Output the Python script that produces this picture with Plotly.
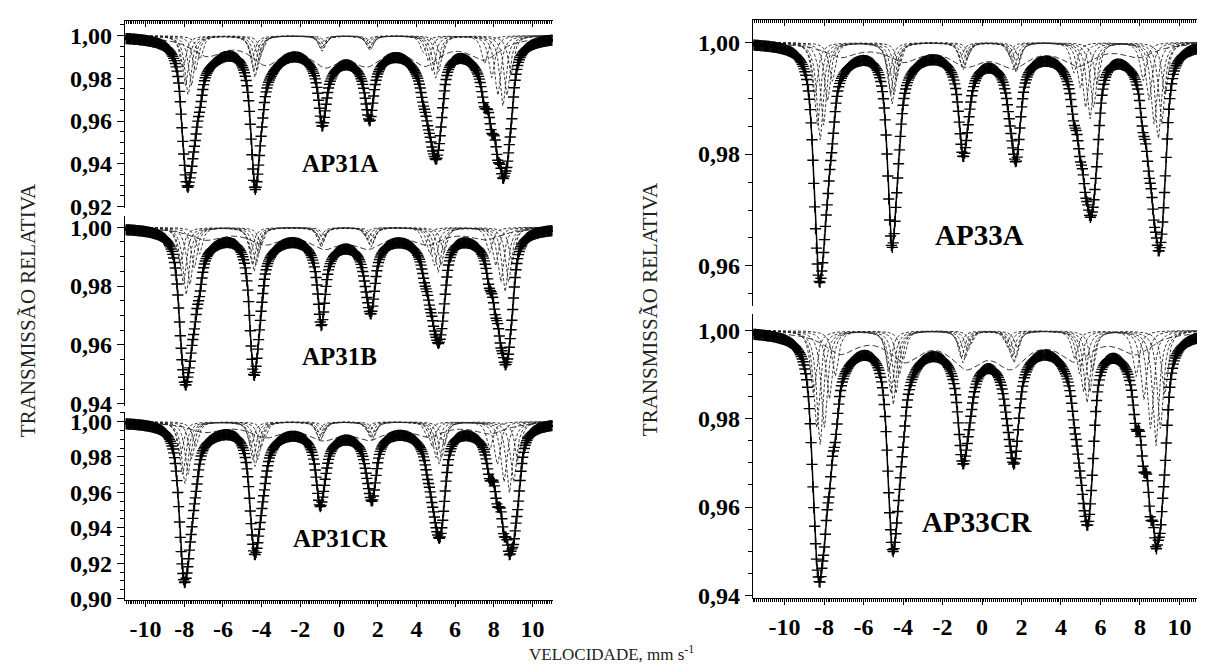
import numpy as np
import plotly.graph_objects as go

W, H = 1205, 669

# ---------------- data ----------------
PANEL_NAMES = ["AP31A", "AP31B", "AP31CR", "AP33A", "AP33CR"]

# observed line positions (mm/s), minimum transmission of each line, spread of subspectra
AP31A_LINES = [-7.80, -4.34, -0.88, 1.60, 5.00, 8.47]
AP31A_MIN = [0.929, 0.928, 0.9575, 0.960, 0.942, 0.933]
AP31A_SPREAD = [0.68, 0.38, 0.20, 0.23, 0.71, 1.05]

AP31B_LINES = [-7.90, -4.39, -0.93, 1.65, 5.12, 8.58]
AP31B_MIN = [0.9463, 0.9496, 0.9665, 0.9705, 0.9605, 0.9532]
AP31B_SPREAD = [0.76, 0.41, 0.19, 0.34, 0.76, 0.90]

AP31CR_LINES = [-7.96, -4.34, -0.98, 1.71, 5.17, 8.80]
AP31CR_MIN = [0.909, 0.9247, 0.952, 0.955, 0.934, 0.9247]
AP31CR_SPREAD = [0.62, 0.54, 0.30, 0.34, 0.65, 1.12]

AP33A_LINES = [-8.20, -4.56, -0.96, 1.72, 5.47, 8.93]
AP33A_MIN = [0.957, 0.9633, 0.9795, 0.9786, 0.9687, 0.9626]
AP33A_SPREAD = [0.68, 0.40, 0.34, 0.40, 0.90, 0.86]

AP33CR_LINES = [-8.20, -4.50, -0.96, 1.62, 5.32, 8.81]
AP33CR_MIN = [0.9429, 0.9499, 0.9697, 0.9697, 0.9558, 0.9505]
AP33CR_SPREAD = [0.85, 0.56, 0.45, 0.45, 0.70, 1.12]

# weight of the broad (long-dash) subspectrum in each panel and its relative line intensities
PANEL_BROAD = [1.0, 0.55, 0.5, 0.45, 0.6]
BROAD_REL = [0.3, 0.6, 1.6, 1.6, 0.6, 0.3]

# hyperfine-field distribution of the dashed subspectra
SUB_OFFSETS = [-0.4, -0.2, 0.0, 0.25, 0.55, 0.9]
SUB_WEIGHTS = [0.55, 0.85, 1.0, 0.85, 0.6, 0.4]
LINE_WIDTH_MM = 0.38
BROAD_SCALE, BROAD_WIDTH = 0.88, 2.0

X_TICKS = [-10, -8, -6, -4, -2, 0, 2, 4, 6, 8, 10]
X_TICK_TEXT = ["-10", "-8", "-6", "-4", "-2", "0", "2", "4", "6", "8", "10"]

N_CHANNELS = 512
DIRS = [1, 1, 1, -1, -1, -1]


def lor(v, p, g):
    return 1.0 / (1.0 + ((v - p) / (0.5 * g)) ** 2)


def sub_absorptions(v, lines, spread, R, bw):
    subs = []
    for o, w in zip(SUB_OFFSETS, SUB_WEIGHTS):
        a = np.zeros_like(v)
        for i in range(6):
            a += w * R[i] * lor(v, lines[i] + DIRS[i] * o * spread[i], LINE_WIDTH_MM)
        subs.append(a)
    c = float(np.mean(lines))
    a = np.zeros_like(v)
    for i in range(6):
        a += bw * BROAD_REL[i] * R[i] * lor(v, c + BROAD_SCALE * (lines[i] - c), BROAD_WIDTH)
    subs.append(a)
    return subs


def calibrate(lines, spread, target, bw):
    vf = np.linspace(-12, 12, 4801)
    R = np.full(6, 0.03)
    for _ in range(60):
        tot = 1 - sum(sub_absorptions(vf, lines, spread, R, bw))
        for i in range(6):
            m = np.abs(vf - lines[i]) < 0.8
            tmin = tot[m].min()
            R[i] *= (1 - target[i]) / (1 - tmin)
    return R


def px_dom(top, bottom):
    return [1 - bottom / H, 1 - top / H]


LEFT_DOM = [117 / W, 545 / W]
RIGHT_DOM = [745 / W, 1203 / W]
LEFT_RANGE = [-11.06, 11.06]
RIGHT_RANGE = [-11.6, 11.6]

panels = [
    dict(name="AP31A", lines=AP31A_LINES, mn=AP31A_MIN, sp=AP31A_SPREAD, xd=LEFT_DOM, xr=LEFT_RANGE,
         ch=(-11.0, 11.0), yd=px_dom(10, 202), yr=[0.9191, 1.0069], yt=[0.92, 0.94, 0.96, 0.98, 1.00],
         pos="top", lab=(0.05, 0.940), ls=25),
    dict(name="AP31B", lines=AP31B_LINES, mn=AP31B_MIN, sp=AP31B_SPREAD, xd=LEFT_DOM, xr=LEFT_RANGE,
         ch=(-11.0, 11.0), yd=px_dom(210, 404), yr=[0.9393, 1.0037], yt=[0.94, 0.96, 0.98, 1.00],
         pos="mid", lab=(0.05, 0.956), ls=25),
    dict(name="AP31CR", lines=AP31CR_LINES, mn=AP31CR_MIN, sp=AP31CR_SPREAD, xd=LEFT_DOM, xr=LEFT_RANGE,
         ch=(-11.0, 11.0), yd=px_dom(410, 602), yr=[0.8995, 1.0055],
         yt=[0.90, 0.92, 0.94, 0.96, 0.98, 1.00], pos="bottom", lab=(0.1, 0.934), ls=25),
    dict(name="AP33A", lines=AP33A_LINES, mn=AP33A_MIN, sp=AP33A_SPREAD, xd=RIGHT_DOM, xr=RIGHT_RANGE,
         ch=(-11.55, 11.55), yd=px_dom(9, 302), yr=[0.9528, 1.0040], yt=[0.96, 0.98, 1.00],
         pos="top", lab=(-0.15, 0.9656), ls=29),
    dict(name="AP33CR", lines=AP33CR_LINES, mn=AP33CR_MIN, sp=AP33CR_SPREAD, xd=RIGHT_DOM, xr=RIGHT_RANGE,
         ch=(-11.55, 11.55), yd=px_dom(310, 600), yr=[0.9395, 1.0037], yt=[0.94, 0.96, 0.98, 1.00],
         pos="bottom", lab=(-0.25, 0.9565), ls=29),
]

FONT = "Liberation Serif, Times New Roman, serif"
TICK_SIZE = 24
fig = go.Figure()
layout = {}
annotations = []

for k, p in enumerate(panels):
    ax = k + 1
    xn = "x" if ax == 1 else f"x{ax}"
    yn = "y" if ax == 1 else f"y{ax}"
    bw = PANEL_BROAD[k]
    R = calibrate(p["lines"], p["sp"], p["mn"], bw)
    vf = np.linspace(p["xr"][0], p["xr"][1], 1500)
    subs = sub_absorptions(vf, p["lines"], p["sp"], R, bw)
    for j, s in enumerate(subs):
        broad = j == len(subs) - 1
        fig.add_trace(go.Scatter(x=vf, y=1 - s, mode="lines", xaxis=xn, yaxis=yn, showlegend=False,
                                 hoverinfo="skip",
                                 line=dict(color="#222", width=0.9,
                                           dash="6px,3px" if broad else "3px,2px")))
    fig.add_trace(go.Scatter(x=vf, y=1 - sum(subs), mode="lines", xaxis=xn, yaxis=yn, showlegend=False,
                             line=dict(color="black", width=1.5)))
    vch = np.linspace(p["ch"][0], p["ch"][1], N_CHANNELS)
    data = 1 - sum(sub_absorptions(vch, p["lines"], p["sp"], R, bw))
    fig.add_trace(go.Scatter(x=vch, y=data, mode="markers", xaxis=xn, yaxis=yn, showlegend=False,
                             marker=dict(symbol="cross-thin", size=8, color="black",
                                         line=dict(width=1.4, color="black"))))

    xa = dict(domain=p["xd"], range=p["xr"], anchor=yn, showgrid=False, zeroline=False,
              tickvals=X_TICKS, ticktext=X_TICK_TEXT, tickcolor="black", linecolor="black",
              linewidth=1.3, tickwidth=1.2, ticklen=6,
              tickfont=dict(family=FONT, size=TICK_SIZE, color="black", weight="bold"))
    if p["pos"] == "top":
        xa.update(side="top", ticks="inside", showline=True, showticklabels=False,
                  minor=dict(tickmode="linear", tick0=0, dtick=0.1, ticks="inside", ticklen=3,
                             tickcolor="black", tickwidth=1))
    elif p["pos"] == "bottom":
        xa.update(side="bottom", ticks="outside", showline=True, showticklabels=True,
                  ticklabelstandoff=2,
                  minor=dict(tickmode="linear", tick0=0, dtick=0.1, ticks="outside", ticklen=3,
                             tickcolor="black", tickwidth=1))
    else:
        xa.update(showline=False, ticks="", showticklabels=False)
    layout["xaxis" if ax == 1 else f"xaxis{ax}"] = xa

    ytext = [f"{t:.2f}".replace(".", ",") for t in p["yt"]]
    ya = dict(domain=p["yd"], range=p["yr"], anchor=xn, side="left", showgrid=False, zeroline=False,
              showline=True, linecolor="black", linewidth=1.3, ticks="outside", ticklen=7,
              tickwidth=1.2, tickcolor="black", tickvals=p["yt"], ticktext=ytext,
              tickfont=dict(family=FONT, size=TICK_SIZE, color="black", weight="bold"),
              minor=dict(tickmode="linear", tick0=0.9, dtick=0.005, ticks="outside", ticklen=4,
                         tickcolor="black", tickwidth=1))
    layout["yaxis" if ax == 1 else f"yaxis{ax}"] = ya
    yr_ax = dict(overlaying=yn, anchor=xn, side="right", range=p["yr"], showgrid=False, zeroline=False,
                 showline=True, linecolor="black", linewidth=1.3, ticks="inside", ticklen=7,
                 tickwidth=1.2, tickcolor="black", tickvals=p["yt"], showticklabels=False,
                 minor=dict(tickmode="linear", tick0=0.9, dtick=0.005, ticks="inside", ticklen=4,
                            tickcolor="black", tickwidth=1))
    layout[f"yaxis{ax + 5}"] = yr_ax

    annotations.append(dict(x=p["lab"][0], y=p["lab"][1], xref=xn, yref=yn, text=p["name"],
                            showarrow=False, xanchor="center", yanchor="middle",
                            font=dict(family=FONT, size=p["ls"], color="black", weight="bold")))

annotations += [
    dict(x=20 / W, y=1 - 306 / H, xref="paper", yref="paper", text="TRANSMISSÃO RELATIVA",
         textangle=-90, showarrow=False, xanchor="center", yanchor="middle",
         font=dict(family=FONT, size=21, color="#222")),
    dict(x=642 / W, y=1 - 305 / H, xref="paper", yref="paper", text="TRANSMISSÃO RELATIVA",
         textangle=-90, showarrow=False, xanchor="center", yanchor="middle",
         font=dict(family=FONT, size=21, color="#222")),
    dict(x=603 / W, y=1 - 657 / H, xref="paper", yref="paper", text="VELOCIDADE, mm s<sup>-1</sup>",
         showarrow=False, xanchor="center", yanchor="middle",
         font=dict(family=FONT, size=17, color="#222")),
]

fig.update_layout(width=W, height=H, margin=dict(l=0, r=0, t=0, b=0), plot_bgcolor="white",
                  paper_bgcolor="white", showlegend=False, annotations=annotations, **layout)
fig.write_html("out.html")
